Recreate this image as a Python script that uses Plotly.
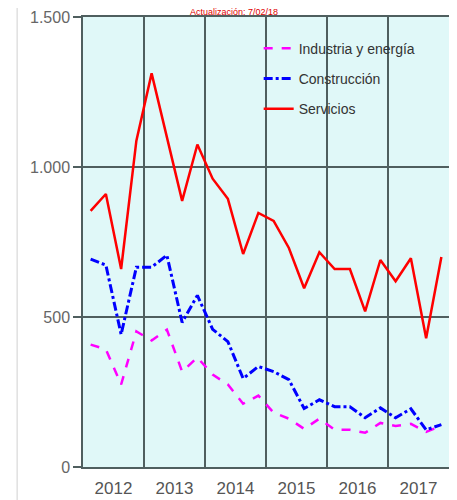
import plotly.graph_objects as go

# trimestres 2012T1 .. 2017T4
years = [2012, 2013, 2014, 2015, 2016, 2017]
quarters = [f'{y}T{q}' for y in years for q in range(1, 5)]

industria = [408, 392, 275, 452, 422, 458, 318, 365, 308, 275, 211, 238,
             181, 161, 127, 161, 124, 124, 114, 147, 137, 144, 117, 137]
construccion = [693, 673, 442, 666, 666, 706, 482, 572, 459, 418, 295, 335,
                318, 291, 195, 224, 201, 201, 164, 197, 164, 194, 124, 141]
servicios = [854, 910, 660, 1088, 1312, 1100, 887, 1075, 961, 894, 710, 847,
             820, 730, 596, 716, 660, 660, 519, 690, 619, 696, 429, 700]

y_ticks = [0, 500, 1000, 1500]
y_labels = ['0', '500', '1.000', '1.500']

# posicion numerica: centro de cada trimestre
x_pos = [int(q[:4]) + (int(q[-1]) - 0.5) / 4 for q in quarters]

fig = go.Figure()
fig.add_trace(go.Scatter(x=x_pos, y=industria, mode='lines', name='Industria y energía',
                         legendgroup='a',
                         line=dict(color='#ff00ff', width=2.5, dash='dash')))
fig.add_trace(go.Scatter(x=x_pos, y=construccion, mode='lines', name='Construcción',
                         legendgroup='b',
                         line=dict(color='#0000ff', width=3, dash='dashdot')))
fig.add_trace(go.Scatter(x=x_pos, y=servicios, mode='lines', name='Servicios',
                         legendgroup='c',
                         line=dict(color='#ff0000', width=2.5)))

grid_col = '#4f5f5f'
fig.update_xaxes(
    range=[2012, 2018],
    tickvals=[y + 0.5 for y in years],
    ticktext=[str(y) for y in years],
    showgrid=False,
    ticks='',
    ticklabelstandoff=5,
    tickfont=dict(family='Liberation Sans, Arial', size=17, color='#555'),
    minor=dict(tickvals=years[1:], showgrid=True, gridcolor=grid_col, gridwidth=1.5),
    showline=True, linecolor=grid_col, linewidth=1.5, mirror=True,
    zeroline=False, automargin=False,
)
fig.update_yaxes(
    range=[0, 1500],
    tickvals=y_ticks,
    ticktext=y_labels,
    showgrid=True, gridcolor=grid_col, gridwidth=1.5,
    ticks='outside', ticklen=8, tickcolor=grid_col, tickwidth=1.5,
    tickfont=dict(family='Liberation Sans, Arial', size=16, color='#666'),
    showline=True, linecolor=grid_col, linewidth=1.5, mirror=True,
    zeroline=False, automargin=False,
)

# la pagina deja 8 px de margen: figura algo menor para que quepa en la ventana
fig.update_layout(
    width=449, height=492,
    margin=dict(l=75, r=8, t=9, b=33),
    plot_bgcolor='#e0f8f8',
    paper_bgcolor='white',
    showlegend=True,
    legend=dict(x=0.48, y=0.965, xanchor='left', yanchor='top',
                bgcolor='rgba(0,0,0,0)', traceorder='grouped', tracegroupgap=9,
                itemwidth=30,
                font=dict(family='Liberation Sans, Arial', size=14, color='#333')),
    shapes=[
        dict(type='line', xref='paper', yref='paper', x0=-0.18, x1=-0.18,
             y0=1.02, y1=-0.08, line=dict(color='#d0d0d0', width=1)),
    ],
    annotations=[
        dict(text='Actualización: 7/02/18', xref='paper', yref='paper',
             x=0.413, y=1.02, xanchor='center', yanchor='top', yshift=2,
             showarrow=False, borderpad=0,
             font=dict(family='Liberation Sans, Arial', size=9, color='#e00000')),
    ],
)

fig.write_html('out.html')
